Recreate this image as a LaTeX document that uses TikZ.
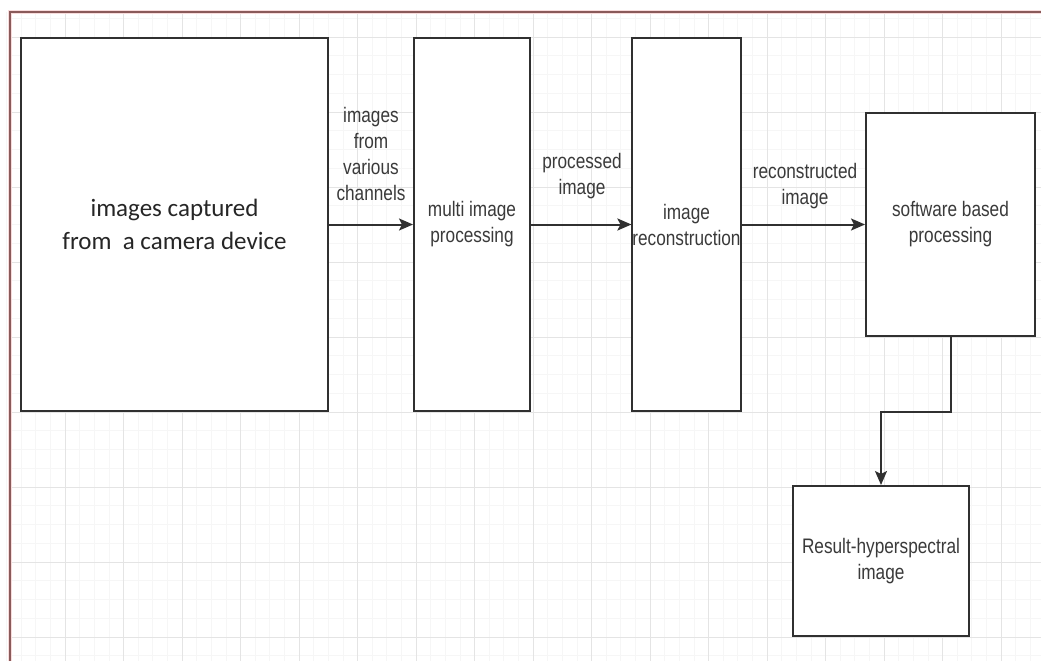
\documentclass[tikz,border=0pt]{standalone}
\usepackage{fontspec}
\usetikzlibrary{arrows.meta}
\newfontfamily\labfont[FakeStretch=0.82]{Liberation Sans}
\newfontfamily\calfont{Carlito}
\definecolor{boxline}{HTML}{303030}
\definecolor{txt}{HTML}{3A3A3A}
\definecolor{gridmajor}{HTML}{E4E4E4}
\definecolor{gridminor}{HTML}{F6F6F6}
\definecolor{frame}{HTML}{8A5A5A}
\definecolor{framehalo}{HTML}{F8DCDC}
\tikzset{
  blockbox/.style={draw=boxline, line width=2pt, fill=white, align=center,
    inner sep=0pt, text=txt, font=\labfont\fontsize{21}{26}\selectfont},
  flowlabel/.style={align=center, inner sep=0pt, text=txt,
    font=\labfont\fontsize{21}{26}\selectfont},
  flowarrow/.style={draw=boxline, line width=2pt,
    -{Stealth[length=14pt,width=12pt,inset=3pt]}}
}
\begin{document}
\begin{tikzpicture}[x=1pt,y=-1pt]
\useasboundingbox (0,0) rectangle (1041,661);
\fill[white] (0,0) rectangle (1041,661);
% grid
\foreach \i in {0,...,72} {
  \draw[gridminor, line width=0.6pt] ({6.5+14.625*\i},12) -- ({6.5+14.625*\i},661);
}
\foreach \i in {0,...,35} {
  \draw[gridminor, line width=0.6pt] (10,{18.25+18.75*\i}) -- (1041,{18.25+18.75*\i});
}
\foreach \i in {1,...,17} {
  \draw[gridmajor, line width=0.9pt] ({6.5+58.5*\i},12) -- ({6.5+58.5*\i},661);
}
\foreach \i in {0,...,8} {
  \draw[gridmajor, line width=0.9pt] (10,{37+75*\i}) -- (1041,{37+75*\i});
}
% frame
\draw[framehalo, line width=4pt] (10,661) -- (10,12) -- (1041,12);
\draw[frame, line width=1.5pt] (10,661) -- (10,12) -- (1041,12);
% boxes
\node[blockbox, minimum width=307pt, minimum height=373pt,
  font=\calfont\fontsize{25}{33}\selectfont, text=black!85] (b1) at (174.5,224.5)
  {images captured\\from\ \ a camera device};
\node[blockbox, minimum width=116pt, minimum height=373pt] (b2) at (472,224.5)
  {multi image\\processing};
\node[blockbox, minimum width=107pt, minimum height=373pt] (b3) at (686.5,224.5)
  {image\\reconstruction};
\node[blockbox, minimum width=169pt, minimum height=223pt] (b4) at (950.5,224.5)
  {software based\\processing};
\node[blockbox, minimum width=176pt, minimum height=150pt] (b5) at (881,561)
  {Result-hyperspectral\\image};
% connectors
\draw[flowarrow] (b1.east) -- (b2.west);
\draw[flowarrow] (b2.east) -- (b3.west);
\draw[flowarrow] (b3.east) -- (b4.west);
\draw[flowarrow] (b4.south) -- ++(0,75) -| (b5.north);
% labels
\node[flowlabel] (l1) at (371,154) {images\\from\\various\\channels};
\node[flowlabel] (l2) at (582,176) {processed\\image};
\node[flowlabel] (l3) at (805,186) {reconstructed\\image};
\end{tikzpicture}
\end{document}
